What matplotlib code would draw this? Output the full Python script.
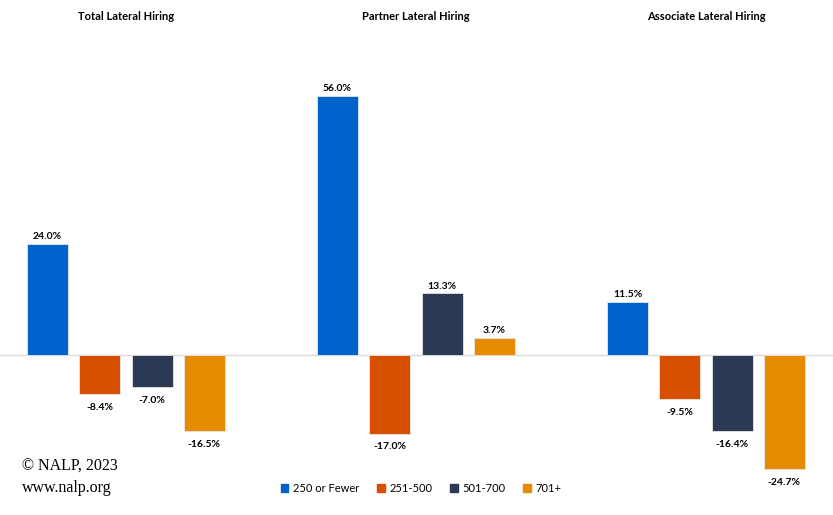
import matplotlib
matplotlib.use("Agg")
import matplotlib.pyplot as plt
import matplotlib.patches as mpatches
import numpy as np

# data
groups = ["Total Lateral Hiring", "Partner Lateral Hiring", "Associate Lateral Hiring"]
sizes = ["250 or Fewer", "251-500", "501-700", "701+"]
total = [24.0, -8.4, -7.0, -16.5]
partner = [56.0, -17.0, 13.3, 3.7]
associate = [11.5, -9.5, -16.4, -24.7]
colors = ["#0063CC", "#D75000", "#2B3955", "#E78C00"]

values = np.array([total, partner, associate])

W, H = 833, 515
fig = plt.figure(figsize=(W / 100, H / 100), dpi=100)
ax_top, ax_bot = 30, 480
ax = fig.add_axes([0, 1 - ax_bot / H, 1, (ax_bot - ax_top) / H])

px_per_unit = 52.3
group_step = 290 / px_per_unit
x0 = 47.5 / px_per_unit
ax.set_xlim(-x0, (W - 47.5) / px_per_unit)
ppct = 4.625
ax.set_ylim(-(ax_bot - 355) / ppct, (355 - ax_top) / ppct)

font = "Lato"
for g in range(len(groups)):
    xs = g * group_step + np.arange(len(sizes))
    for i, v in enumerate(values[g]):
        ax.bar(xs[i], v, width=0.785, color=colors[i], edgecolor="#E6E6E6",
               linewidth=0.6, zorder=3)
        if v >= 0:
            ax.text(xs[i], v + 0.6, f"{v:.1f}%", ha="center", va="bottom",
                    fontsize=7.5, fontweight="bold", family=font)
        else:
            ax.text(xs[i], v - 1.9, f"{v:.1f}%", ha="center", va="top",
                    fontsize=7.5, fontweight="bold", family=font)
    ax.text(xs.mean(), (355 - 16) / ppct, groups[g], ha="center", va="center",
            fontsize=8, fontweight="bold", family=font)

ax.axhline(0, color="#D9D9D9", linewidth=1, zorder=2)
ax.axis("off")

handles = [mpatches.Patch(color=c, label=s) for c, s in zip(colors, sizes)]
leg = fig.legend(handles=handles, loc="center", bbox_to_anchor=(421 / W, 1 - 488 / H),
                 ncol=4, frameon=False, handlelength=0.7, handleheight=0.7,
                 handletextpad=0.4, columnspacing=1.6,
                 prop={"family": font, "size": 8})

fig.text(22 / W, 1 - 467 / H, "© NALP, 2023", family="Liberation Serif",
         fontsize=11.5, ha="left", va="center")
fig.text(22 / W, 1 - 488 / H, "www.nalp.org", family="Liberation Serif",
         fontsize=11.5, ha="left", va="center")

fig.savefig("out.png", dpi=100)
